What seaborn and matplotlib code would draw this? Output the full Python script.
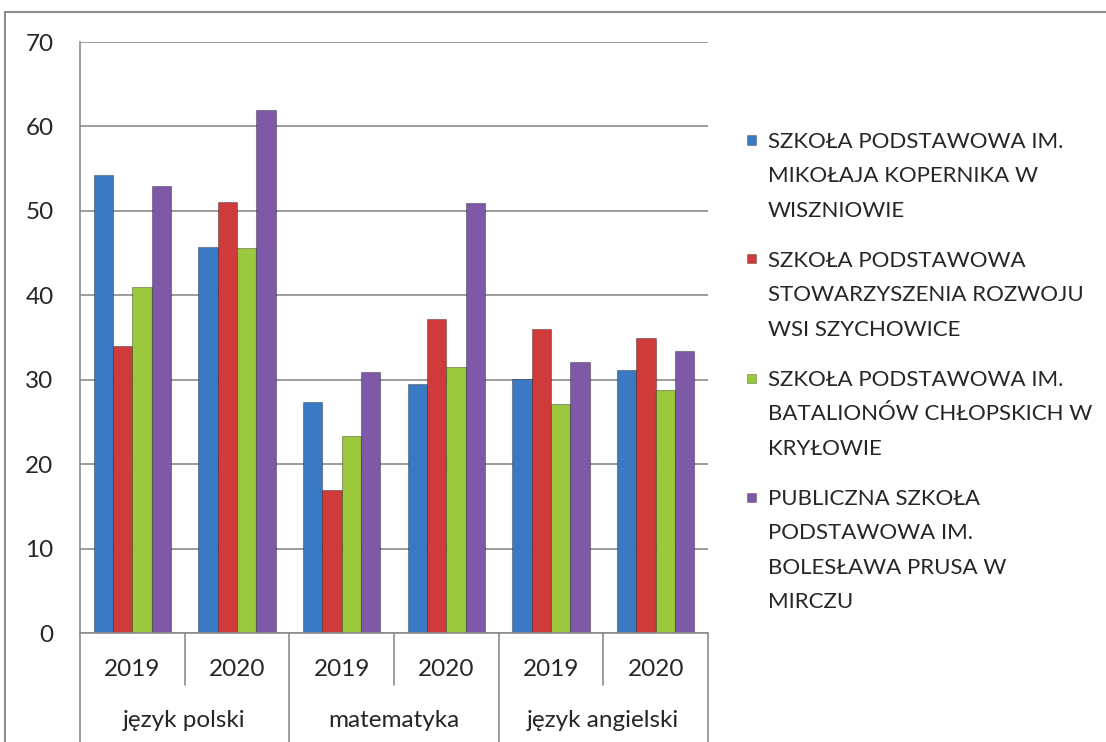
import matplotlib
matplotlib.use("Agg")
import matplotlib.pyplot as plt
import matplotlib.transforms as mtransforms
from matplotlib.lines import Line2D
from matplotlib.patches import Rectangle
import pandas as pd
import seaborn as sns

# dane
subjects = ["język polski", "matematyka", "język angielski"]
years = ["2019", "2020"]
schools = [
    "SZKOŁA PODSTAWOWA IM.\nMIKOŁAJA KOPERNIKA W\nWISZNIOWIE",
    "SZKOŁA PODSTAWOWA\nSTOWARZYSZENIA ROZWOJU\nWSI SZYCHOWICE",
    "SZKOŁA PODSTAWOWA IM.\nBATALIONÓW CHŁOPSKICH W\nKRYŁOWIE",
    "PUBLICZNA SZKOŁA\nPODSTAWOWA IM.\nBOLESŁAWA PRUSA W\nMIRCZU",
]
# kolejnosc: polski 2019, polski 2020, mat 2019, mat 2020, ang 2019, ang 2020
wisniowa = [54.2, 45.7, 27.4, 29.5, 30.1, 31.1]
szychowice = [34.0, 51.0, 16.9, 37.2, 36.0, 35.0]
krylow = [41.0, 45.6, 23.3, 31.5, 27.1, 28.8]
mircze = [52.9, 62.0, 30.9, 50.9, 32.1, 33.4]
colors = ["#3A7AC4", "#CF3B3B", "#9CC83E", "#7D59A8"]

slots = [f"{s} {y}" for s in subjects for y in years]
rows = []
for school, vals in zip(schools, [wisniowa, szychowice, krylow, mircze]):
    for slot, v in zip(slots, vals):
        rows.append({"slot": slot, "school": school, "value": v})
df = pd.DataFrame(rows)

sns.set_style("white")
plt.rcParams["font.family"] = ["Lato", "DejaVu Sans"]
FS = 17.5
LFS = 16

fig = plt.figure(figsize=(11.06, 7.42), dpi=100)
ax = fig.add_axes([80 / 1106, 1 - 633 / 742, 628 / 1106, 591 / 742])

sns.barplot(data=df, x="slot", y="value", hue="school", order=slots,
            hue_order=schools, palette=colors, saturation=1, width=0.74, ax=ax,
            edgecolor="#00000050", linewidth=0.8, legend=False)

ax.set_ylim(0, 70)
ax.set_xlim(-0.5, 5.5)
ax.set_yticks(range(0, 71, 10))
ax.yaxis.grid(True, color="#8c8c8c", linewidth=1.2)
ax.set_axisbelow(True)
for side in ["top", "right"]:
    ax.spines[side].set_visible(False)
ax.spines["left"].set_color("#8c8c8c")
ax.spines["bottom"].set_color("#8c8c8c")
ax.spines["left"].set_linewidth(1.2)
ax.spines["bottom"].set_linewidth(1.2)
ax.tick_params(axis="y", length=6, width=1.2, color="#8c8c8c", pad=13, labelsize=FS)
ax.set_xticks(range(6))
ax.set_xticklabels(years * 3, fontsize=FS)
ax.tick_params(axis="x", length=0, pad=19)
ax.set_xlabel("")
ax.set_ylabel("")

# dwupoziomowa os kategorii
trans = mtransforms.blended_transform_factory(ax.transData, ax.transAxes)
for i in range(7):
    bottom = -0.19 if i % 2 == 0 else -0.088
    ax.add_line(Line2D([i - 0.5, i - 0.5], [0, bottom], transform=trans,
                       color="#8c8c8c", linewidth=1.2, clip_on=False))
for k, s in enumerate(subjects):
    ax.text(2 * k + 0.5, -0.148, s, transform=trans, ha="center", va="center",
            fontsize=FS)

# legenda
ys = [140, 259, 378, 497]
for school, c, y in zip(schools, colors, ys):
    fig.patches.append(Rectangle((747 / 1106, 1 - (y + 4.5) / 742), 9 / 1106, 9 / 742,
                                 transform=fig.transFigure, facecolor=c,
                                 edgecolor="#00000050", linewidth=0.6))
    fig.text(768 / 1106, 1 - (y - 8) / 742, school, fontsize=LFS, va="top",
             ha="left", linespacing=1.9)

# ramka wykresu
fig.add_artist(Line2D([5 / 1106, 1.0], [1 - 12 / 742, 1 - 12 / 742],
                      transform=fig.transFigure, color="#8c8c8c", linewidth=1.5))
fig.add_artist(Line2D([5 / 1106, 5 / 1106], [0, 1 - 12 / 742],
                      transform=fig.transFigure, color="#8c8c8c", linewidth=1.5))

fig.savefig("out.png", dpi=100)
